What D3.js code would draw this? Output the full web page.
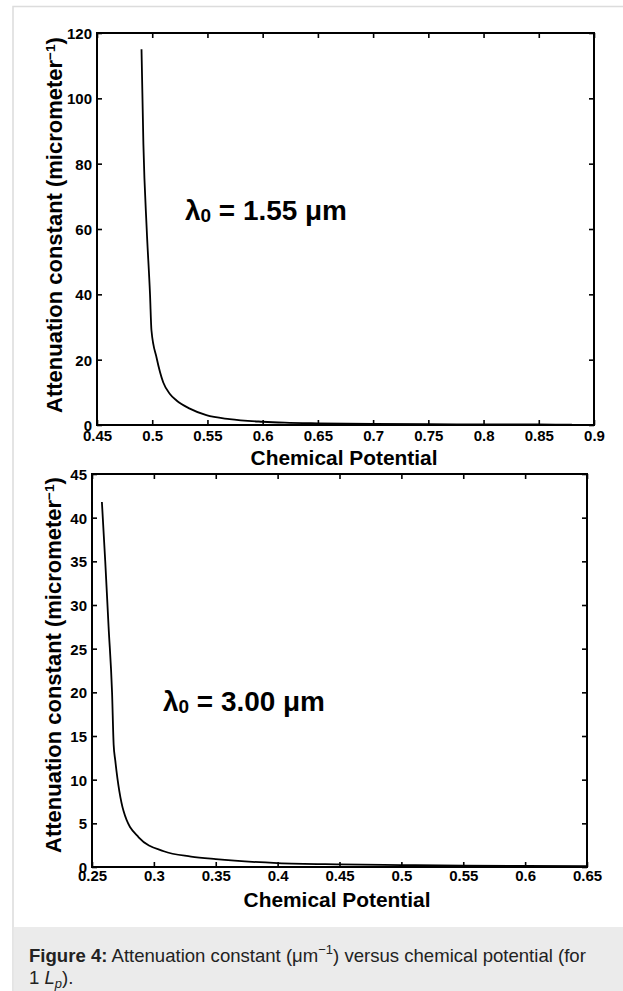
<!DOCTYPE html>
<html>
<head>
<meta charset="utf-8">
<script src="https://cdn.jsdelivr.net/npm/d3@7"></script>
<style>
  html, body { margin: 0; padding: 0; background: #fff; }
  svg { display: block; }
  text { font-family: "Liberation Sans", Arial, sans-serif; }
</style>
</head>
<body>
<svg id="fig" width="623" height="991"></svg>
<script>
// ---- data ----
const muTop = [0.4903, 0.4920, 0.4950, 0.4980, 0.4993, 0.5040, 0.5100, 0.5160, 0.5220, 0.5340, 0.5490, 0.5700, 0.6000, 0.6200, 0.6500, 0.7000, 0.7500, 0.8000, 0.8500, 0.8800];
const alphaTop = [115, 86, 60, 40, 29, 20.5, 13, 9.5, 7.5, 5, 3, 1.8, 1.0, 0.7, 0.5, 0.35, 0.25, 0.2, 0.15, 0.12];
const xTicksTop = [0.45, 0.5, 0.55, 0.6, 0.65, 0.7, 0.75, 0.8, 0.85, 0.9];
const yTicksTop = [0, 20, 40, 60, 80, 100, 120];

const muBot = [0.258, 0.2607, 0.2634, 0.2662, 0.2675, 0.2688, 0.2755, 0.2877, 0.308, 0.330, 0.350, 0.400, 0.450, 0.500, 0.550, 0.600, 0.650];
const alphaBot = [41.8, 35, 27.5, 20, 14, 12.2, 6.4, 3.4, 1.8, 1.2, 0.9, 0.45, 0.3, 0.22, 0.15, 0.12, 0.1];
const xTicksBot = [0.25, 0.3, 0.35, 0.4, 0.45, 0.5, 0.55, 0.6, 0.65];
const yTicksBot = [0, 5, 10, 15, 20, 25, 30, 35, 40, 45];

const labelsTop = ["0.45", "0.5", "0.55", "0.6", "0.65", "0.7", "0.75", "0.8", "0.85", "0.9"];
const labelsBot = ["0.25", "0.3", "0.35", "0.4", "0.45", "0.5", "0.55", "0.6", "0.65"];

const xTitle = "Chemical Potential";
const yTitle = "Attenuation constant (micrometer";
const annTop = ["λ", "0", " = 1.55 μm"];
const annBot = ["λ", "0", " = 3.00 μm"];

const svg = d3.select("#fig");

// card frame + caption band
svg.append("rect").attr("x", 13).attr("y", 6.5).attr("width", 620).attr("height", 990)
  .attr("fill", "#fff").attr("stroke", "#dcdcdc").attr("stroke-width", 1.5);
svg.append("rect").attr("x", 13.75).attr("y", 927).attr("width", 610).attr("height", 64)
  .attr("fill", "#ebebeb");

function fitWidth(sel, target) {
  const node = sel.node();
  const fs = parseFloat(sel.attr("font-size"));
  const len = node.getComputedTextLength();
  if (len > 0) sel.attr("font-size", (fs * target / len).toFixed(2));
}

function panel(cfg) {
  const x = d3.scaleLinear().domain(cfg.xDom).range([cfg.x0, cfg.x1]);
  const y = d3.scaleLinear().domain(cfg.yDom).range([cfg.y1, cfg.y0]);
  const g = svg.append("g");

  const tickLen = 5;
  const axB = d3.axisBottom(x).tickValues(cfg.xTicks).tickSize(-tickLen).tickPadding(0)
    .tickFormat((d, i) => cfg.xLabels[i]);
  const gB = g.append("g").attr("transform", `translate(0,${cfg.y1})`).call(axB);
  const axT = d3.axisTop(x).tickValues(cfg.xTicks).tickSize(-tickLen).tickFormat("");
  const gT = g.append("g").attr("transform", `translate(0,${cfg.y0})`).call(axT);
  const axL = d3.axisLeft(y).tickValues(cfg.yTicks).tickSize(-tickLen).tickPadding(5);
  const gL = g.append("g").attr("transform", `translate(${cfg.x0},0)`).call(axL);
  const axR = d3.axisRight(y).tickValues(cfg.yTicks).tickSize(-tickLen).tickFormat("");
  const gR = g.append("g").attr("transform", `translate(${cfg.x1},0)`).call(axR);

  [gB, gT, gL, gR].forEach(a => {
    a.select(".domain").remove();
    a.selectAll(".tick line").attr("stroke", "#000").attr("stroke-width", 1.6);
    a.selectAll("text").attr("fill", "#000").attr("font-size", 15).attr("font-weight", "bold")
      .style("font-family", "'Liberation Sans', Arial, sans-serif");
  });
  gB.selectAll("text").attr("y", cfg.xLabBase).attr("dy", 0);
  gL.selectAll("text").attr("dy", "0.36em");

  // frame
  g.append("rect").attr("x", cfg.x0).attr("y", cfg.y0)
    .attr("width", cfg.x1 - cfg.x0).attr("height", cfg.y1 - cfg.y0)
    .attr("fill", "none").attr("stroke", "#000").attr("stroke-width", 2);

  // curve
  const pts = cfg.xs.map((d, i) => [d, cfg.ys[i]]);
  g.append("path").datum(pts)
    .attr("d", d3.line().curve(d3.curveMonotoneX).x(d => x(d[0])).y(d => y(d[1])))
    .attr("fill", "none").attr("stroke", "#000").attr("stroke-width", 1.8);

  // x title
  const xt = g.append("text").attr("x", cfg.xTitleX).attr("y", cfg.y1 + 40)
    .attr("text-anchor", "middle").attr("font-size", 21).attr("font-weight", "bold")
    .text(xTitle);
  fitWidth(xt, 187);

  // y title
  const yt = g.append("text")
    .attr("transform", `translate(${cfg.yTitleX},${cfg.yTitleY}) rotate(-90)`)
    .attr("text-anchor", "middle").attr("font-size", 22).attr("font-weight", "bold");
  yt.append("tspan").text(yTitle);
  yt.append("tspan").attr("font-size", "0.62em").attr("dy", "-0.55em").text("−1");
  yt.append("tspan").attr("dy", "0.34em").text(")");
  fitWidth(yt, 376);

  // annotation
  const an = g.append("text").attr("x", cfg.annX).attr("y", cfg.annY)
    .attr("font-size", 28).attr("font-weight", "bold");
  an.append("tspan").text(cfg.ann[0]);
  an.append("tspan").attr("font-size", "0.68em").attr("dy", "0.12em").text(cfg.ann[1]);
  an.append("tspan").attr("dy", "-0.08em").text(cfg.ann[2]);
  fitWidth(an, 162);
}

panel({
  x0: 97, x1: 594, y0: 33, y1: 425,
  xDom: [0.45, 0.9], yDom: [0, 120],
  xTicks: xTicksTop, yTicks: yTicksTop, xLabels: labelsTop,
  xs: muTop, ys: alphaTop, xLabBase: 16,
  xTitleX: 344, yTitleX: 62, yTitleY: 225, annX: 185, annY: 220, ann: annTop
});

panel({
  x0: 92, x1: 587, y0: 474, y1: 867,
  xDom: [0.25, 0.65], yDom: [0, 45],
  xTicks: xTicksBot, yTicks: yTicksBot, xLabels: labelsBot,
  xs: muBot, ys: alphaBot, xLabBase: 14,
  xTitleX: 337, yTitleX: 61, yTitleY: 665, annX: 163, annY: 711, ann: annBot
});

// caption
const cap1 = svg.append("text").attr("x", 29).attr("y", 962).attr("font-size", 16).attr("fill", "#222");
cap1.append("tspan").attr("font-weight", "bold").text("Figure 4:");
cap1.append("tspan").text(" Attenuation constant (μm");
cap1.append("tspan").attr("font-size", "0.7em").attr("dy", "-0.6em").text("−1");
cap1.append("tspan").attr("dy", "0.42em").text(") versus chemical potential (for");
fitWidth(cap1, 557);

const cap2 = svg.append("text").attr("x", 29).attr("y", 984).attr("font-size", cap1.attr("font-size")).attr("fill", "#222");
cap2.append("tspan").text("1 ");
cap2.append("tspan").attr("font-style", "italic").text("L");
cap2.append("tspan").attr("font-style", "italic").attr("font-size", "0.7em").attr("dy", "0.3em").text("p");
cap2.append("tspan").attr("dy", "-0.21em").text(").");
</script>
</body>
</html>
